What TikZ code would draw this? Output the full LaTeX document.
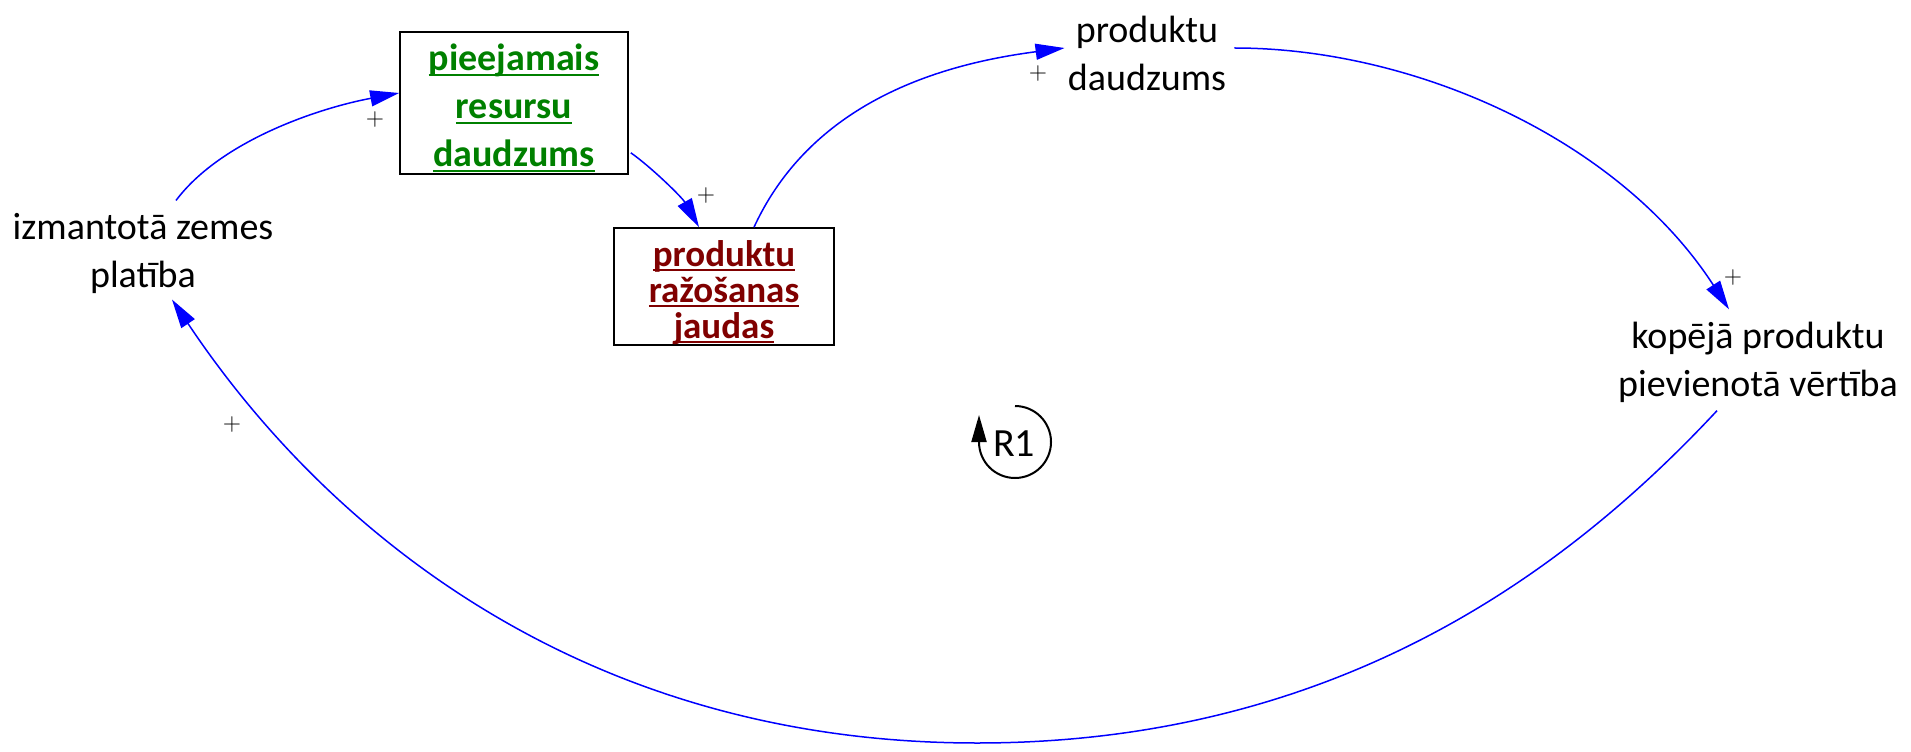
\documentclass[tikz,border=0pt]{standalone}
\usepackage{fontspec}
\setmainfont{Carlito}
\usetikzlibrary{arrows.meta,calc}
\definecolor{resgreen}{RGB}{0,128,0}
\definecolor{capred}{RGB}{128,0,0}
\newcommand\ulw[1]{\setbox0\hbox{#1}\rlap{\rule[-2.5pt]{\wd0}{1pt}}\box0}
\tikzset{
    var/.style={align=center, inner sep=0pt, font=\fontsize{19}{24}\selectfont},
    stock/.style={draw, line width=0.8pt, align=center, inner ysep=0pt, font=\bfseries\fontsize{19}{24}\selectfont},
    link/.style={->, blue, line width=0.75pt},
    sign/.style={inner sep=0pt, font=\fontsize{12}{14}\selectfont},
}
\begin{document}
\begin{tikzpicture}[x=0.5pt, y=0.5pt, >={Triangle[length=14.5pt,width=8pt]}]
    \useasboundingbox (0,0) rectangle (1911,751);
    \node[var] (izm) at (143,498) {izmantotā zemes\\platība};
    \node[stock, minimum width=114pt, minimum height=71pt, text=resgreen] (res) at (514,648)
        {\rule{0pt}{18.5pt}\ulw{pieejamais}\\\ulw{resursu}\\\ulw{daudzums}};
    \node[stock, minimum width=110pt, minimum height=58.5pt, text=capred,
        font=\bfseries\fontsize{18.5}{18}\selectfont] (jaud) at (724,464.5)
        {\rule{0pt}{19pt}\ulw{produktu}\\\ulw{ražošanas}\\\ulw{jaudas}};
    \node[var] (prod) at (1147,698) {produktu\\daudzums};
    \node[var] (kop) at (1758,389) {kopējā produktu\\pievienotā vērtība};

    \draw[link] ($(izm.north)+(33,12)$) .. controls +(45,60) and +(-80,-15) .. ($(res.west)+(0,10)$);
    \draw[link] ($(res.south east)+(2,22)$) .. controls +(20,-14) and +(-17,30) .. ($(jaud.north)+(-25,0)$);
    \draw[link] ($(jaud.north)+(30,0)$) .. controls +(60,130) and +(-115,-15) .. ($(prod.west)+(-3,5)$);
    \draw[link] ($(prod.east)+(8,5)$) .. controls +(180,0) and +(-110,170) .. ($(kop.north)+(-29,12)$);
    \draw[link] ($(kop.south)+(-41,-8)$) .. controls +(-150,-161) and +(360,0) .. (977,8)
        .. controls +(-400,0) and +(150,-225) .. ($(izm.south)+(29,-6)$);

    \foreach \n/\x/\y in {a/375/631, b/706/555, c/1038/677, d/1733/473, e/232/327}
    {
        \node[sign] (plus\n) at (\x,\y) {$+$};
    }

    \node[inner sep=0pt, font=\fontsize{20}{24}\selectfont] (loop) at (1014,307) {R1};
    \draw[line width=1pt, -{Triangle[length=13.5pt,width=7.5pt]}] ($(loop)+(1,38)$)
        arc[start angle=90, end angle=-180, radius=36] -- ++(0,27);
\end{tikzpicture}
\end{document}
